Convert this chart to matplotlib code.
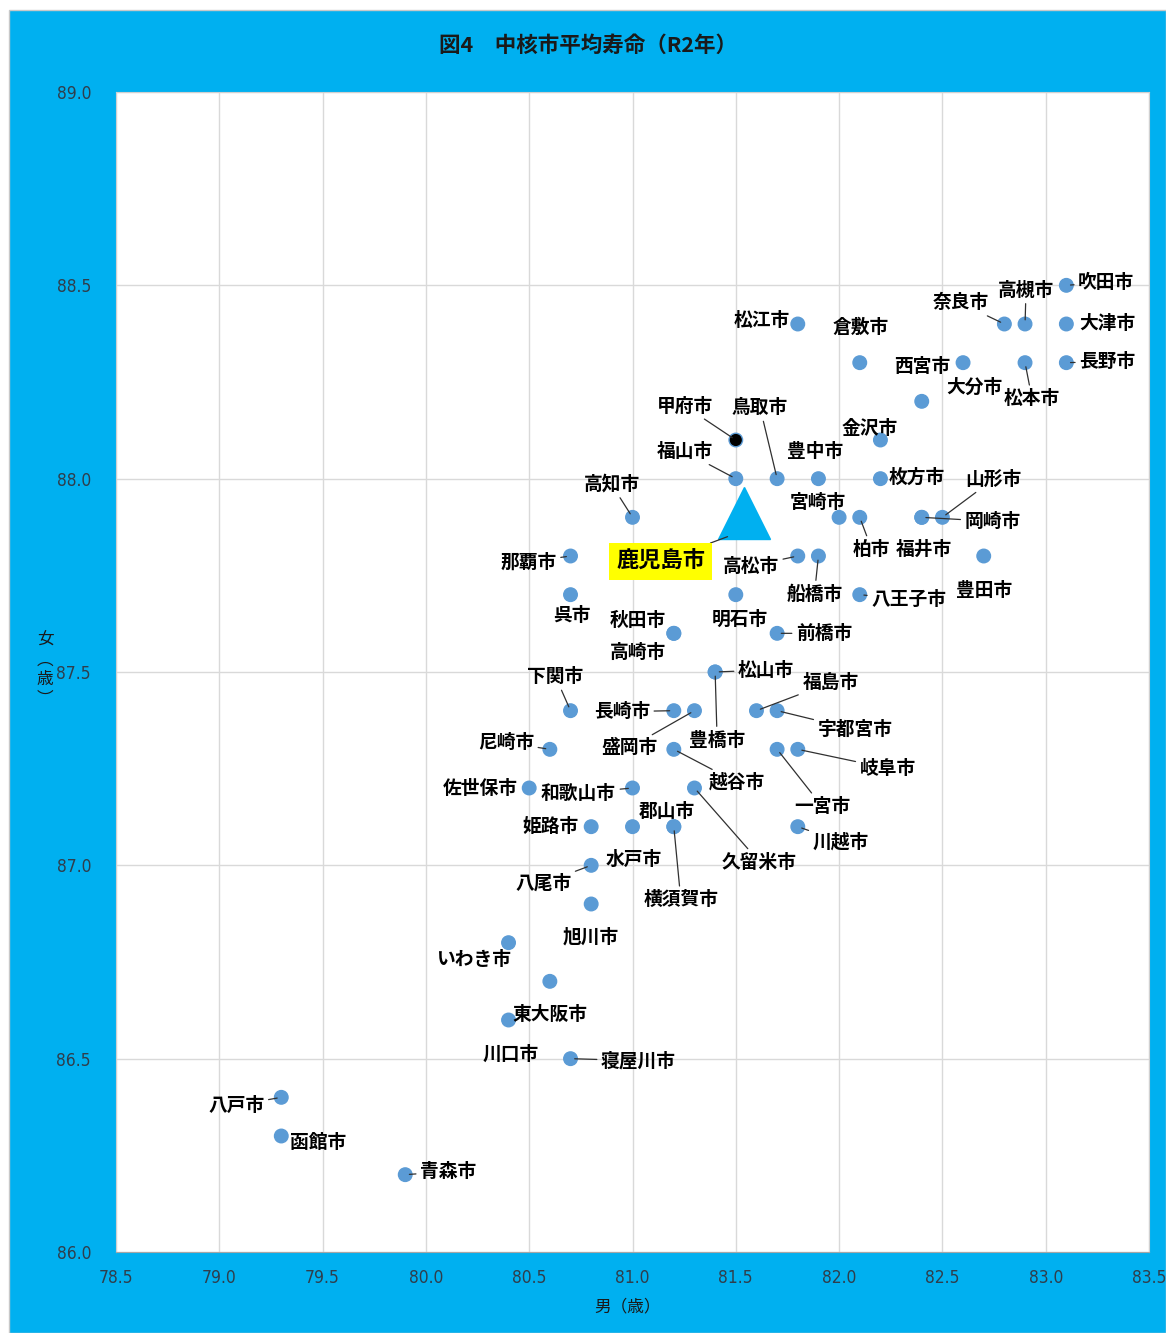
import matplotlib
matplotlib.use("Agg")
import matplotlib.pyplot as plt
from matplotlib.patches import Rectangle
import numpy as np

plt.rcParams['font.family'] = ['Noto Sans CJK JP', 'DejaVu Sans']

# data: 中核市の平均寿命 (男, 女)
cities = ["吹田市", "大津市", "長野市", "高槻市", "奈良市", "松本市", "西宮市", "大分市",
          "松江市", "倉敷市", "甲府市", "金沢市", "福山市", "鳥取市", "豊中市", "枚方市",
          "高知市", "宮崎市", "柏市", "福井市", "岡崎市", "山形市", "豊田市", "那覇市",
          "高松市", "船橋市", "呉市", "明石市", "八王子市", "秋田市", "高崎市", "前橋市",
          "松山市", "豊橋市", "下関市", "長崎市", "盛岡市", "福島市", "宇都宮市", "尼崎市",
          "越谷市", "一宮市", "岐阜市", "佐世保市", "和歌山市", "久留米市", "姫路市", "水戸市",
          "郡山市", "横須賀市", "川越市", "八尾市", "旭川市", "いわき市", "東大阪市", "川口市",
          "寝屋川市", "八戸市", "函館市", "青森市"]
male = [83.1, 83.1, 83.1, 82.9, 82.8, 82.9, 82.6, 82.4,
        81.8, 82.1, 81.5, 82.2, 81.5, 81.7, 81.9, 82.2,
        81.0, 82.0, 82.1, 82.4, 82.4, 82.5, 82.7, 80.7,
        81.8, 81.9, 80.7, 81.5, 82.1, 81.2, 81.2, 81.7,
        81.4, 81.4, 80.7, 81.2, 81.3, 81.6, 81.7, 80.6,
        81.2, 81.7, 81.8, 80.5, 81.0, 81.3, 80.8, 81.0,
        81.2, 81.2, 81.8, 80.8, 80.8, 80.4, 80.6, 80.4,
        80.7, 79.3, 79.3, 79.9]
female = [88.5, 88.4, 88.3, 88.4, 88.4, 88.3, 88.3, 88.2,
          88.4, 88.3, 88.1, 88.1, 88.0, 88.0, 88.0, 88.0,
          87.9, 87.9, 87.9, 87.9, 87.9, 87.9, 87.8, 87.8,
          87.8, 87.8, 87.7, 87.7, 87.7, 87.6, 87.6, 87.6,
          87.5, 87.5, 87.4, 87.4, 87.4, 87.4, 87.4, 87.3,
          87.3, 87.3, 87.3, 87.2, 87.2, 87.2, 87.1, 87.1,
          87.1, 87.1, 87.1, 87.0, 86.9, 86.8, 86.7, 86.6,
          86.5, 86.4, 86.3, 86.2]

kago_name = "鹿児島市"
kago_male = 81.54
kago_female = 87.91

x_ticks = [78.5, 79.0, 79.5, 80.0, 80.5, 81.0, 81.5, 82.0, 82.5, 83.0, 83.5]
y_ticks = [86.0, 86.5, 87.0, 87.5, 88.0, 88.5, 89.0]

# label placement (offset in pixels, leader line yes/no)
label_pos = {
    "吹田市": (40, 3, 1), "大津市": (41, 0, 0), "長野市": (41, 1, 1), "高槻市": (1, 34, 1),
    "奈良市": (-44, 21, 1), "松本市": (7, -36, 1), "西宮市": (-41, -4, 0), "大分市": (53, 14, 0),
    "松江市": (-36, 4, 0), "倉敷市": (1, 35, 0), "甲府市": (-51, 34, 1), "金沢市": (-11, 12, 0),
    "福山市": (-51, 27, 1), "鳥取市": (-17, 71, 1), "豊中市": (-3, 27, 0), "枚方市": (36, 1, 0),
    "高知市": (-21, 33, 1), "宮崎市": (-21, 15, 0), "柏市": (12, -32, 1), "福井市": (2, -32, 0),
    "岡崎市": (71, -4, 1), "山形市": (51, 38, 1), "豊田市": (0, -34, 0), "那覇市": (-42, -6, 1),
    "高松市": (-47, -10, 1), "船橋市": (-4, -38, 1), "呉市": (1, -21, 0), "明石市": (4, -25, 0),
    "八王子市": (49, -5, 1), "秋田市": (-36, 13, 0), "高崎市": (-36, -19, 0), "前橋市": (47, 0, 1),
    "松山市": (51, 2, 1), "豊橋市": (2, -68, 1), "下関市": (-15, 34, 1), "長崎市": (-52, -1, 1),
    "盛岡市": (-65, -37, 1), "福島市": (74, 28, 1), "宇都宮市": (78, -19, 1), "尼崎市": (-44, 7, 1),
    "越谷市": (63, -33, 1), "一宮市": (45, -57, 1), "岐阜市": (90, -19, 1), "佐世保市": (-49, 0, 0),
    "和歌山市": (-54, -5, 1), "久留米市": (65, -74, 1), "姫路市": (-41, 0, 0), "水戸市": (1, -33, 0),
    "郡山市": (-7, 15, 0), "横須賀市": (7, -73, 1), "川越市": (43, -15, 1), "八尾市": (-48, -18, 1),
    "旭川市": (0, -33, 0), "いわき市": (-35, -17, 0), "東大阪市": (0, -33, 0), "川口市": (2, -34, 0),
    "寝屋川市": (68, -2, 1), "八戸市": (-45, -8, 1), "函館市": (37, -6, 0), "青森市": (43, 3, 1),
}

W, H = 1166, 1333
fig = plt.figure(figsize=(W / 100, H / 100), dpi=100, facecolor="white")
fig.patches.append(Rectangle((9 / W, 0), 1 - 9 / W, (H - 10) / H, transform=fig.transFigure,
                             facecolor="#00B0F0", edgecolor="#C8C8C8", lw=1.0, zorder=-10))

ax = fig.add_axes([116 / W, 1 - 1252 / H, (1149 - 116) / W, (1252 - 92) / H])
ax.set_facecolor("white")
ax.set_xlim(78.5, 83.5)
ax.set_ylim(86.0, 89.0)
ax.set_xticks(x_ticks)
ax.set_yticks(y_ticks)
tick_font = dict(family="DejaVu Sans", stretch="condensed", size=12.5, color="#2F3E4C")
ax.set_xticklabels(["%.1f" % v for v in x_ticks], **tick_font)
ax.set_yticklabels(["%.1f" % v for v in y_ticks], **tick_font)
ax.tick_params(axis="x", length=0, pad=12)
ax.tick_params(axis="y", length=0, pad=18)
ax.grid(True, color="#D9D9D9", lw=1.0)
ax.set_axisbelow(True)
for s in ax.spines.values():
    s.set_color("#D0D0D0")
ax.spines["bottom"].set_color("#A6A6A6")

colors = ["black" if c == "甲府市" else "#5B9BD5" for c in cities]
ax.scatter(male, female, s=95, c=colors, edgecolors="#5B9BD5", linewidths=1.0, zorder=3)
ax.plot([kago_male], [kago_female], marker="^", ms=38, color="#00B0F0", ls="none", zorder=4)

for name, mx, fy in zip(cities, male, female):
    dx, dy, lead = label_pos[name]
    arrow = None
    if lead:
        arrow = dict(arrowstyle="-", color="#303030", lw=0.9, shrinkA=1, shrinkB=3)
    ax.annotate(name, (mx, fy), xytext=(dx, dy), textcoords="offset pixels",
                ha="center", va="center", fontsize=13.5, fontweight="bold", color="black",
                arrowprops=arrow, zorder=5, annotation_clip=False)

# 鹿児島市 label, leader to lower-left corner of the triangle
ax.annotate(kago_name, (kago_male - 0.08, kago_female - 0.06), xytext=(-67, -25),
            textcoords="offset pixels", ha="center", va="center", fontsize=16,
            fontweight="bold", color="black",
            bbox=dict(boxstyle="square,pad=0.32", facecolor="#FFFF00", edgecolor="none"),
            arrowprops=dict(arrowstyle="-", color="#303030", lw=0.9, shrinkA=0, shrinkB=0),
            zorder=6)

fig.text(588 / W, 1 - 45 / H, "図4　中核市平均寿命（R2年）", ha="center", va="center",
         fontsize=15.5, fontweight="bold", color="#1A1A1A")
fig.text(628 / W, 1 - 1307 / H, "男（歳）", ha="center", va="center", fontsize=12, color="#1A1A1A")
fig.text(45 / W, 1 - 670 / H, "女\n︵\n歳\n︶", ha="center", va="center", fontsize=12,
         color="#1A1A1A", linespacing=1.2)

fig.savefig("out.png", dpi=100, facecolor=fig.get_facecolor())
